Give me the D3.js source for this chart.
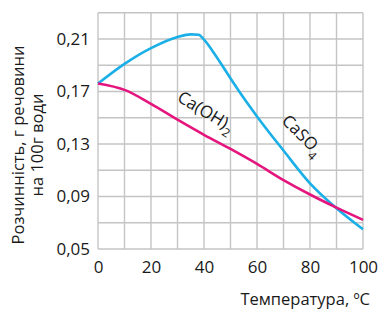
<!DOCTYPE html>
<html>
<head>
  <script src="https://cdn.jsdelivr.net/npm/d3@7"></script>
  <style>
    body { margin: 0; background: #fff; font-family: "Open Sans", sans-serif; }
  </style>
</head>
<body>
  <main id="container"></main>
  <script>
    // solubility, g per 100 g water
    const caOHTemp = [0, 10, 20, 30, 40, 50, 60, 70, 80, 90, 100]
    const caOHValues = [0.176, 0.1712, 0.1605, 0.1485, 0.137, 0.1262, 0.1148, 0.1025, 0.0915, 0.0815, 0.0722]

    const caSO4Temp = [0, 10, 20, 30, 35, 38, 40, 45, 50, 55, 60, 70, 80, 90, 100]
    const caSO4Values = [0.176, 0.191, 0.203, 0.2115, 0.2135, 0.2132, 0.2095, 0.1955, 0.180, 0.165, 0.151, 0.125, 0.100, 0.081, 0.065]

    const xTicks = [0, 20, 40, 60, 80, 100]
    const yTicks = [0.05, 0.09, 0.13, 0.17, 0.21]

    const width = 379
    const height = 311
    const margin = { left: 98, top: 12.7, right: 16, bottom: 62 }

    const svg = d3.select("#container")
      .append("svg")
      .attr("width", width)
      .attr("height", height)

    const x = d3.scaleLinear()
      .domain([0, 100])
      .range([margin.left, width - margin.right])

    const y = d3.scaleLinear()
      .domain([0.05, 0.23])
      .range([height - margin.bottom, margin.top])

    const fmt = d => d3.format(".2f")(d).replace(".", ",")

    // grid
    const grid = svg.append("g")
      .attr("stroke", "#c4c4c4")
      .attr("stroke-width", 1.4)

    grid.selectAll("line.v")
      .data(d3.range(0, 101, 10))
      .join("line")
      .attr("x1", d => x(d)).attr("x2", d => x(d))
      .attr("y1", y(0.05)).attr("y2", y(0.23))

    grid.selectAll("line.h")
      .data(d3.range(0, 10).map(i => 0.05 + i * 0.02))
      .join("line")
      .attr("class", "h")
      .attr("y1", d => y(d)).attr("y2", d => y(d))
      .attr("x1", x(0)).attr("x2", x(100))

    // axes (labels only)
    const xAxis = svg.append("g")
      .attr("transform", `translate(0, ${y(0.05)})`)
      .call(d3.axisBottom(x).tickValues(xTicks).tickSize(0).tickPadding(12))
    xAxis.select(".domain").remove()
    xAxis.selectAll("text")
      .attr("font-size", 17)
      .attr("font-family", "Open Sans")
      .attr("fill", "#1a1a1a")

    const yAxis = svg.append("g")
      .attr("transform", `translate(${x(0)}, 0)`)
      .call(d3.axisLeft(y).tickValues(yTicks).tickFormat(fmt).tickSize(0).tickPadding(8))
    yAxis.select(".domain").remove()
    yAxis.selectAll("text")
      .attr("font-size", 17)
      .attr("font-family", "Open Sans")
      .attr("fill", "#1a1a1a")

    // lines
    const lineSO4 = d3.line()
      .x(d => x(d[0]))
      .y(d => y(d[1]))
      .curve(d3.curveMonotoneX)

    const lineOH = d3.line()
      .x(d => x(d[0]))
      .y(d => y(d[1]))
      .curve(d3.curveCatmullRom.alpha(0.5))

    svg.append("path")
      .datum(caSO4Temp.map((t, i) => [t, caSO4Values[i]]))
      .attr("fill", "none")
      .attr("stroke", "#1aafe6")
      .attr("stroke-width", 2.6)
      .attr("d", lineSO4)

    svg.append("path")
      .datum(caOHTemp.map((t, i) => [t, caOHValues[i]]))
      .attr("fill", "none")
      .attr("stroke", "#e5157e")
      .attr("stroke-width", 2.6)
      .attr("d", lineOH)

    // series labels
    const lab1 = svg.append("text")
      .attr("transform", `translate(${x(29.5)}, ${y(0.186) + 30}) rotate(31)`)
      .attr("font-size", 17)
      .attr("fill", "#1a1a1a")
    lab1.append("tspan").text("Ca(OH)")
    lab1.append("tspan").attr("font-size", 12).attr("dy", 6).text("2")

    const lab2 = svg.append("text")
      .attr("transform", `translate(${x(69)}, ${y(0.166) + 25}) rotate(45)`)
      .attr("font-size", 17)
      .attr("fill", "#1a1a1a")
    lab2.append("tspan").text("CaSO")
    lab2.append("tspan").attr("font-size", 12).attr("dy", 6).text("4")

    // axis titles
    svg.append("text")
      .attr("x", 370)
      .attr("y", 305)
      .attr("text-anchor", "end")
      .attr("font-size", 16.5)
      .attr("fill", "#1a1a1a")
      .text("Температура, ºC")

    const yTitle = svg.append("text")
      .attr("transform", "translate(0, 145) rotate(-90)")
      .attr("text-anchor", "middle")
      .attr("font-size", 16.5)
      .attr("fill", "#1a1a1a")
    yTitle.append("tspan").attr("x", 0).attr("y", 24).text("Розчинність, г речовини")
    yTitle.append("tspan").attr("x", 0).attr("y", 43).text("на 100г води")
  </script>
</body>
</html>
